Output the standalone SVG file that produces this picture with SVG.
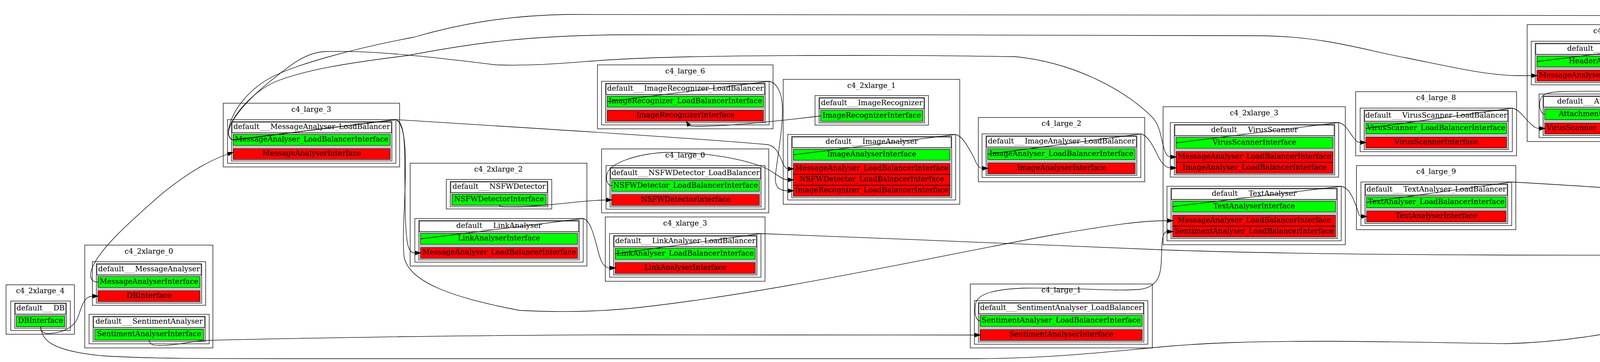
<svg xmlns="http://www.w3.org/2000/svg" width="6329" height="926" viewBox="0 0 6329 926">
<style>
text{font-family:"DejaVu Serif","Liberation Serif",serif;font-size:18.67px;text-anchor:middle;fill:#000}
.cl{fill:none;stroke:#000;stroke-width:1.3}
.no{fill:#fff;stroke:#000;stroke-width:1.3}
.tb{fill:none;stroke:#333;stroke-width:1.3}
.hd{fill:#fff;stroke:#000;stroke-width:1.3}
.sc{fill:#fff;stroke:#777;stroke-width:1}
.g{fill:#0f0;stroke:#000;stroke-width:1.3}
.r{fill:#f00;stroke:#000;stroke-width:1.3}
.e{fill:none;stroke:#000;stroke-width:1.3;marker-end:url(#a)}
.ep{fill:none;stroke:#000;stroke-width:1.3}
.ah{fill:#000;stroke:#000;stroke-width:1}
</style>
<defs>
<marker id="a" markerUnits="userSpaceOnUse" markerWidth="14" markerHeight="10" refX="0" refY="4.65" orient="auto" viewBox="0 0 13.3 9.3" overflow="visible"><path d="M0,0L13.3,4.65L0,9.3z" fill="#000" stroke="#000" stroke-width="1"/></marker>
</defs>
<rect x="0" y="0" width="6329" height="926" fill="#fff"/>
<g id="clusters">
<g id="c4_2xlarge_4"><rect class="cl" x="15.5" y="728.5" width="175" height="126.5"/><text x="103" y="750">c4_2xlarge_4</text></g>
<g id="c4_2xlarge_0"><rect class="cl" x="217" y="627" width="328" height="263"/><text x="381" y="648.5">c4_2xlarge_0</text></g>
<g id="c4_large_3"><rect class="cl" x="571.5" y="264" width="451.5" height="163"/><text x="797" y="285.5">c4_large_3</text></g>
<g id="c4_2xlarge_2"><rect class="cl" x="1050" y="417.5" width="452.5" height="263"/><text x="1276" y="439">c4_2xlarge_2</text></g>
<g id="c4_large_6"><rect class="cl" x="1529.5" y="166" width="449.5" height="163.5"/><text x="1754" y="187.5">c4_large_6</text></g>
<g id="c4_large_0"><rect class="cl" x="1540" y="381" width="428" height="163.5"/><text x="1754" y="402.5">c4_large_0</text></g>
<g id="c4_xlarge_3"><rect class="cl" x="1549.5" y="555" width="409" height="164.5"/><text x="1754" y="576.5">c4_xlarge_3</text></g>
<g id="c4_2xlarge_1"><rect class="cl" x="2005" y="203" width="452" height="319.5"/><text x="2231" y="224.5">c4_2xlarge_1</text></g>
<g id="c4_large_2"><rect class="cl" x="2504.5" y="300.5" width="426" height="164.5"/><text x="2717.5" y="322">c4_large_2</text></g>
<g id="c4_large_1"><rect class="cl" x="2484" y="726.5" width="466" height="163.5"/><text x="2717" y="748">c4_large_1</text></g>
<g id="c4_2xlarge_3"><rect class="cl" x="2977.5" y="273" width="466.5" height="353"/><text x="3210.5" y="294.5">c4_2xlarge_3</text></g>
<g id="c4_large_8"><rect class="cl" x="3470.5" y="234.5" width="412" height="164"/><text x="3676.5" y="256">c4_large_8</text></g>
<g id="c4_large_9"><rect class="cl" x="3472.5" y="423.5" width="408" height="164"/><text x="3676.5" y="445">c4_large_9</text></g>
<g id="c4_xlarge_2"><rect class="cl" x="3909.5" y="63" width="451.5" height="299"/><text x="4135" y="84.5">c4_xlarge_2</text></g>
<g id="c4_large_4"><rect class="cl" x="4387.5" y="155.5" width="491" height="164"/><text x="4633" y="177">c4_large_4</text></g>
<g id="c4_large_5"><rect class="cl" x="4414.5" y="329.5" width="437.5" height="164.5"/><text x="4633" y="351">c4_large_5</text></g>
<g id="c4_xlarge_0"><rect class="cl" x="4905" y="274" width="491" height="303"/><text x="5150.5" y="295.5">c4_xlarge_0</text></g>
<g id="c4_large_7"><rect class="cl" x="5423" y="235" width="432" height="165"/><text x="5639" y="256.5">c4_large_7</text></g>
<g id="c4_xlarge_1"><rect class="cl" x="5881" y="235" width="432.5" height="127"/><text x="6097" y="256.5">c4_xlarge_1</text></g>
</g>

<g id="n_DB">
<rect class="no" x="27.5" y="770" width="152.5" height="75.5"/><rect class="tb" x="37.5" y="775" width="132.5" height="65"/>
<rect class="hd" x="39" y="776.5" width="129.5" height="27"/><rect class="sc" x="39" y="805" width="129.5" height="34"/>
<rect class="g" x="42" y="808" width="123.5" height="28"/>
<text x="103.8" y="794">default___DB</text><text x="103.8" y="826">DBInterface</text>
</g>

<g id="n_MessageAnalyser">
<rect class="no" x="236.5" y="669.5" width="290" height="111.5"/><rect class="tb" x="246.5" y="674.5" width="270" height="101"/>
<rect class="hd" x="248" y="676" width="267" height="27"/><rect class="sc" x="248" y="704.5" width="267" height="34"/><rect class="sc" x="248" y="740.5" width="267" height="34"/>
<rect class="g" x="251" y="707.5" width="261" height="28"/><rect class="r" x="251" y="743.5" width="261" height="28"/>
<text x="381.5" y="693.5">default___MessageAnalyser</text><text x="381.5" y="725.5">MessageAnalyserInterface</text><text x="381.5" y="761.5">DBInterface</text>
</g>

<g id="n_SentimentAnalyser">
<rect class="no" x="228" y="804" width="307.5" height="75.5"/><rect class="tb" x="238" y="809" width="287.5" height="65"/>
<rect class="hd" x="239.5" y="810.5" width="284.5" height="27"/><rect class="sc" x="239.5" y="839" width="284.5" height="34"/>
<rect class="g" x="242.5" y="842" width="278.5" height="28"/>
<text x="381.75" y="828">default___SentimentAnalyser</text><text x="381.75" y="860">SentimentAnalyserInterface</text>
</g>

<g id="n_MessageAnalyser_LoadBalancer">
<rect class="no" x="582.5" y="306" width="431" height="111.5"/><rect class="tb" x="592.5" y="311" width="411" height="101"/>
<rect class="hd" x="594" y="312.5" width="408" height="27"/><rect class="sc" x="594" y="341" width="408" height="34"/><rect class="sc" x="594" y="377" width="408" height="34"/>
<rect class="g" x="597" y="344" width="402" height="28"/><rect class="r" x="597" y="380" width="402" height="28"/>
<text x="798" y="330">default___MessageAnalyser_LoadBalancer</text><text x="798" y="362">MessageAnalyser_LoadBalancerInterface</text><text x="798" y="398">MessageAnalyserInterface</text>
</g>

<g id="n_NSFWDetector">
<rect class="no" x="1142.5" y="459" width="270" height="75.5"/><rect class="tb" x="1152.5" y="464" width="250" height="65"/>
<rect class="hd" x="1154" y="465.5" width="247" height="27"/><rect class="sc" x="1154" y="494" width="247" height="34"/>
<rect class="g" x="1157" y="497" width="241" height="28"/>
<text x="1277.5" y="483">default___NSFWDetector</text><text x="1277.5" y="515">NSFWDetectorInterface</text>
</g>

<g id="n_LinkAnalyser">
<rect class="no" x="1062" y="559" width="431" height="111.5"/><rect class="tb" x="1072" y="564" width="411" height="101"/>
<rect class="hd" x="1073.5" y="565.5" width="408" height="27"/><rect class="sc" x="1073.5" y="594" width="408" height="34"/><rect class="sc" x="1073.5" y="630" width="408" height="34"/>
<rect class="g" x="1076.5" y="597" width="402" height="28"/><rect class="r" x="1076.5" y="633" width="402" height="28"/>
<text x="1277.5" y="583">default___LinkAnalyser</text><text x="1277.5" y="615">LinkAnalyserInterface</text><text x="1277.5" y="651">MessageAnalyser_LoadBalancerInterface</text>
</g>

<g id="n_ImageRecognizer_LoadBalancer">
<rect class="no" x="1540" y="208" width="429" height="111.5"/><rect class="tb" x="1550" y="213" width="409" height="101"/>
<rect class="hd" x="1551.5" y="214.5" width="406" height="27"/><rect class="sc" x="1551.5" y="243" width="406" height="34"/><rect class="sc" x="1551.5" y="279" width="406" height="34"/>
<rect class="g" x="1554.5" y="246" width="400" height="28"/><rect class="r" x="1554.5" y="282" width="400" height="28"/>
<text x="1754.5" y="232">default___ImageRecognizer_LoadBalancer</text><text x="1754.5" y="264">ImageRecognizer_LoadBalancerInterface</text><text x="1754.5" y="300">ImageRecognizerInterface</text>
</g>

<g id="n_NSFWDetector_LoadBalancer">
<rect class="no" x="1551.5" y="423.5" width="407" height="111.5"/><rect class="tb" x="1561.5" y="428.5" width="387" height="101"/>
<rect class="hd" x="1563" y="430" width="384" height="27"/><rect class="sc" x="1563" y="458.5" width="384" height="34"/><rect class="sc" x="1563" y="494.5" width="384" height="34"/>
<rect class="g" x="1566" y="461.5" width="378" height="28"/><rect class="r" x="1566" y="497.5" width="378" height="28"/>
<text x="1755" y="447.5">default___NSFWDetector_LoadBalancer</text><text x="1755" y="479.5">NSFWDetector_LoadBalancerInterface</text><text x="1755" y="515.5">NSFWDetectorInterface</text>
</g>

<g id="n_LinkAnalyser_LoadBalancer">
<rect class="no" x="1560.5" y="597.5" width="387.5" height="111.5"/><rect class="tb" x="1570.5" y="602.5" width="367.5" height="101"/>
<rect class="hd" x="1572" y="604" width="364.5" height="27"/><rect class="sc" x="1572" y="632.5" width="364.5" height="34"/><rect class="sc" x="1572" y="668.5" width="364.5" height="34"/>
<rect class="g" x="1575" y="635.5" width="358.5" height="28"/><rect class="r" x="1575" y="671.5" width="358.5" height="28"/>
<text x="1754.25" y="621.5">default___LinkAnalyser_LoadBalancer</text><text x="1754.25" y="653.5">LinkAnalyser_LoadBalancerInterface</text><text x="1754.25" y="689.5">LinkAnalyserInterface</text>
</g>

<g id="n_ImageRecognizer">
<rect class="no" x="2086.5" y="244.5" width="290.5" height="75.5"/><rect class="tb" x="2096.5" y="249.5" width="270.5" height="65"/>
<rect class="hd" x="2098" y="251" width="267.5" height="27"/><rect class="sc" x="2098" y="279.5" width="267.5" height="34"/>
<rect class="g" x="2101" y="282.5" width="261.5" height="28"/>
<text x="2231.75" y="268.5">default___ImageRecognizer</text><text x="2231.75" y="300.5">ImageRecognizerInterface</text>
</g>

<g id="n_ImageAnalyser">
<rect class="no" x="2016.5" y="344" width="430" height="167.5"/><rect class="tb" x="2026.5" y="349" width="410" height="157"/>
<rect class="hd" x="2028" y="350.5" width="407" height="27"/><rect class="sc" x="2028" y="379" width="407" height="34"/><rect class="sc" x="2028" y="415" width="407" height="90"/>
<rect class="g" x="2031" y="382" width="401" height="28"/>
<rect class="r" x="2031" y="418" width="401" height="28"/><rect class="r" x="2031" y="446" width="401" height="28"/><rect class="r" x="2031" y="474" width="401" height="28"/>
<text x="2231.5" y="368">default___ImageAnalyser</text><text x="2231.5" y="400">ImageAnalyserInterface</text>
<text x="2231.5" y="436">MessageAnalyser_LoadBalancerInterface</text><text x="2231.5" y="464">NSFWDetector_LoadBalancerInterface</text><text x="2231.5" y="492">ImageRecognizer_LoadBalancerInterface</text>
</g>

<g id="n_ImageAnalyser_LoadBalancer">
<rect class="no" x="2514" y="342.5" width="406.5" height="111.5"/><rect class="tb" x="2524" y="347.5" width="386.5" height="101"/>
<rect class="hd" x="2525.5" y="349" width="383.5" height="27"/><rect class="sc" x="2525.5" y="377.5" width="383.5" height="34"/><rect class="sc" x="2525.5" y="413.5" width="383.5" height="34"/>
<rect class="g" x="2528.5" y="380.5" width="377.5" height="28"/><rect class="r" x="2528.5" y="416.5" width="377.5" height="28"/>
<text x="2717.25" y="366.5">default___ImageAnalyser_LoadBalancer</text><text x="2717.25" y="398.5">ImageAnalyser_LoadBalancerInterface</text><text x="2717.25" y="434.5">ImageAnalyserInterface</text>
</g>

<g id="n_SentimentAnalyser_LoadBalancer">
<rect class="no" x="2494.5" y="769" width="444" height="111.5"/><rect class="tb" x="2504.5" y="774" width="424" height="101"/>
<rect class="hd" x="2506" y="775.5" width="421" height="27"/><rect class="sc" x="2506" y="804" width="421" height="34"/><rect class="sc" x="2506" y="840" width="421" height="34"/>
<rect class="g" x="2509" y="807" width="415" height="28"/><rect class="r" x="2509" y="843" width="415" height="28"/>
<text x="2716.5" y="793">default___SentimentAnalyser_LoadBalancer</text><text x="2716.5" y="825">SentimentAnalyser_LoadBalancerInterface</text><text x="2716.5" y="861">SentimentAnalyserInterface</text>
</g>

<g id="n_VirusScanner">
<rect class="no" x="2996" y="313.5" width="431" height="139.5"/><rect class="tb" x="3006" y="318.5" width="411" height="129"/>
<rect class="hd" x="3007.5" y="320" width="408" height="27"/><rect class="sc" x="3007.5" y="348.5" width="408" height="34"/><rect class="sc" x="3007.5" y="384.5" width="408" height="62"/>
<rect class="g" x="3010.5" y="351.5" width="402" height="28"/><rect class="r" x="3010.5" y="387.5" width="402" height="28"/><rect class="r" x="3010.5" y="415.5" width="402" height="28"/>
<text x="3211.5" y="337.5">default___VirusScanner</text><text x="3211.5" y="369.5">VirusScannerInterface</text>
<text x="3211.5" y="405.5">MessageAnalyser_LoadBalancerInterface</text><text x="3211.5" y="433.5">ImageAnalyser_LoadBalancerInterface</text>
</g>

<g id="n_TextAnalyser">
<rect class="no" x="2987.5" y="476.5" width="446" height="139.5"/><rect class="tb" x="2997.5" y="481.5" width="426" height="129"/>
<rect class="hd" x="2999" y="483" width="423" height="27"/><rect class="sc" x="2999" y="511.5" width="423" height="34"/><rect class="sc" x="2999" y="547.5" width="423" height="62"/>
<rect class="g" x="3002" y="514.5" width="417" height="28"/><rect class="r" x="3002" y="550.5" width="417" height="28"/><rect class="r" x="3002" y="578.5" width="417" height="28"/>
<text x="3210.5" y="500.5">default___TextAnalyser</text><text x="3210.5" y="532.5">TextAnalyserInterface</text>
<text x="3210.5" y="568.5">MessageAnalyser_LoadBalancerInterface</text><text x="3210.5" y="596.5">SentimentAnalyser_LoadBalancerInterface</text>
</g>

<g id="n_VirusScanner_LoadBalancer">
<rect class="no" x="3482" y="276.5" width="389.5" height="111.5"/><rect class="tb" x="3492" y="281.5" width="369.5" height="101"/>
<rect class="hd" x="3493.5" y="283" width="366.5" height="27"/><rect class="sc" x="3493.5" y="311.5" width="366.5" height="34"/><rect class="sc" x="3493.5" y="347.5" width="366.5" height="34"/>
<rect class="g" x="3496.5" y="314.5" width="360.5" height="28"/><rect class="r" x="3496.5" y="350.5" width="360.5" height="28"/>
<text x="3676.75" y="300.5">default___VirusScanner_LoadBalancer</text><text x="3676.75" y="332.5">VirusScanner_LoadBalancerInterface</text><text x="3676.75" y="368.5">VirusScannerInterface</text>
</g>

<g id="n_TextAnalyser_LoadBalancer">
<rect class="no" x="3484" y="465.5" width="386" height="111.5"/><rect class="tb" x="3494" y="470.5" width="366" height="101"/>
<rect class="hd" x="3495.5" y="472" width="363" height="27"/><rect class="sc" x="3495.5" y="500.5" width="363" height="34"/><rect class="sc" x="3495.5" y="536.5" width="363" height="34"/>
<rect class="g" x="3498.5" y="503.5" width="357" height="28"/><rect class="r" x="3498.5" y="539.5" width="357" height="28"/>
<text x="3677" y="489.5">default___TextAnalyser_LoadBalancer</text><text x="3677" y="521.5">TextAnalyser_LoadBalancerInterface</text><text x="3677" y="557.5">TextAnalyserInterface</text>
</g>

<g id="n_HeaderAnalyser">
<rect class="no" x="3920" y="105.5" width="431.5" height="111.5"/><rect class="tb" x="3930" y="110.5" width="411.5" height="101"/>
<rect class="hd" x="3931.5" y="112" width="408.5" height="27"/><rect class="sc" x="3931.5" y="140.5" width="408.5" height="34"/><rect class="sc" x="3931.5" y="176.5" width="408.5" height="34"/>
<rect class="g" x="3934.5" y="143.5" width="402.5" height="28"/><rect class="r" x="3934.5" y="179.5" width="402.5" height="28"/>
<text x="4135.75" y="129.5">default___HeaderAnalyser</text><text x="4135.75" y="161.5">HeaderAnalyserInterface</text><text x="4135.75" y="197.5">MessageAnalyser_LoadBalancerInterface</text>
</g>

<g id="n_AttachmentsManager">
<rect class="no" x="3940" y="240.5" width="392" height="111.5"/><rect class="tb" x="3950" y="245.5" width="372" height="101"/>
<rect class="hd" x="3951.5" y="247" width="369" height="27"/><rect class="sc" x="3951.5" y="275.5" width="369" height="34"/><rect class="sc" x="3951.5" y="311.5" width="369" height="34"/>
<rect class="g" x="3954.5" y="278.5" width="363" height="28"/><rect class="r" x="3954.5" y="314.5" width="363" height="28"/>
<text x="4136" y="264.5">default___AttachmentsManager</text><text x="4136" y="296.5">AttachmentsManagerInterface</text><text x="4136" y="332.5">VirusScanner_LoadBalancerInterface</text>
</g>

<g id="n_AttachmentsManager_LoadBalancer">
<rect class="no" x="4397.5" y="197" width="470.5" height="111.5"/><rect class="tb" x="4407.5" y="202" width="450.5" height="101"/>
<rect class="hd" x="4409" y="203.5" width="447.5" height="27"/><rect class="sc" x="4409" y="232" width="447.5" height="34"/><rect class="sc" x="4409" y="268" width="447.5" height="34"/>
<rect class="g" x="4412" y="235" width="441.5" height="28"/><rect class="r" x="4412" y="271" width="441.5" height="28"/>
<text x="4632.75" y="221">default___AttachmentsManager_LoadBalancer</text><text x="4632.75" y="253">AttachmentsManager_LoadBalancerInterface</text><text x="4632.75" y="289">AttachmentsManagerInterface</text>
</g>

<g id="n_HeaderAnalyser_LoadBalancer">
<rect class="no" x="4424.5" y="372" width="416.5" height="111.5"/><rect class="tb" x="4434.5" y="377" width="396.5" height="101"/>
<rect class="hd" x="4436" y="378.5" width="393.5" height="27"/><rect class="sc" x="4436" y="407" width="393.5" height="34"/><rect class="sc" x="4436" y="443" width="393.5" height="34"/>
<rect class="g" x="4439" y="410" width="387.5" height="28"/><rect class="r" x="4439" y="446" width="387.5" height="28"/>
<text x="4632.75" y="396">default___HeaderAnalyser_LoadBalancer</text><text x="4632.75" y="428">HeaderAnalyser_LoadBalancerInterface</text><text x="4632.75" y="464">HeaderAnalyserInterface</text>
</g>

<g id="n_MessageParser">
<rect class="no" x="4915.5" y="315" width="470" height="251.5"/><rect class="tb" x="4925.5" y="320" width="450" height="241"/>
<rect class="hd" x="4927" y="321.5" width="447" height="27"/><rect class="sc" x="4927" y="350" width="447" height="34"/><rect class="sc" x="4927" y="386" width="447" height="174"/>
<rect class="g" x="4930" y="353" width="441" height="28"/>
<rect class="r" x="4930" y="389" width="441" height="28"/><rect class="r" x="4930" y="417" width="441" height="28"/><rect class="r" x="4930" y="445" width="441" height="28"/>
<rect class="r" x="4930" y="473" width="441" height="28"/><rect class="r" x="4930" y="501" width="441" height="28"/><rect class="r" x="4930" y="529" width="441" height="28"/>
<text x="5150.5" y="339">default___MessageParser</text><text x="5150.5" y="371">MessageParserInterface</text>
<text x="5150.5" y="407">DBInterface</text><text x="5150.5" y="435">HeaderAnalyser_LoadBalancerInterface</text><text x="5150.5" y="463">MessageAnalyser_LoadBalancerInterface</text>
<text x="5150.5" y="491">AttachmentsManager_LoadBalancerInterface</text><text x="5150.5" y="519">TextAnalyser_LoadBalancerInterface</text><text x="5150.5" y="547">LinkAnalyser_LoadBalancerInterface</text>
</g>

<g id="n_MessageParser_LoadBalancer">
<rect class="no" x="5433" y="278" width="411" height="111.5"/><rect class="tb" x="5443" y="283" width="391" height="101"/>
<rect class="hd" x="5444.5" y="284.5" width="388" height="27"/><rect class="sc" x="5444.5" y="313" width="388" height="34"/><rect class="sc" x="5444.5" y="349" width="388" height="34"/>
<rect class="g" x="5447.5" y="316" width="382" height="28"/><rect class="r" x="5447.5" y="352" width="382" height="28"/>
<text x="5638.5" y="302">default___MessageParser_LoadBalancer</text><text x="5638.5" y="334">MessageParser_LoadBalancerInterface</text><text x="5638.5" y="370">MessageParserInterface</text>
</g>

<g id="n_MessageReceiver">
<rect class="no" x="5892" y="277" width="411" height="75.5"/><rect class="tb" x="5902" y="282" width="391" height="65"/>
<rect class="hd" x="5903.5" y="283.5" width="388" height="27"/><rect class="sc" x="5903.5" y="312" width="388" height="34"/>
<rect class="r" x="5906.5" y="315" width="382" height="28"/>
<text x="6097.5" y="301">default___MessageReceiver</text><text x="6097.5" y="333">MessageParser_LoadBalancerInterface</text>
</g>

<g id="connectors">
<path class="e" d="M103.8,836 C105,850 112,854 128,853 C160,851 188,838 198,815 C206,795 212,768 225,761 C229,759 233,757.5 237.7,757.5"/>
<path class="e" d="M103.8,836 C108,870 130,897 260,910 C380,918 550,917.5 800,917.5 L2500,917.5 C2700,917 2850,898 3000,885 C3100,877 3200,873 3400,873 C3600,874 3750,878 3860,879 C4000,875 4120,855 4240,827 C4400,790 4600,705 4800,580 C4870,535 4885,500 4895,450 C4900,420 4905,403 4916.7,403"/>
<path class="e" d="M251,721.5 C236,722 228,712 234,691 C250,640 330,570 408,501 C470,450 530,412 583.7,394"/>
<path class="e" d="M381.75,870 C383,880 390,884 408,884 C450,884 480,875 520,871 C700,866 1200,857 1600,856.5 L2495.7,857"/>
<path class="e" d="M597,358 L1013.5,306 C1030,310 1035,340 1036,400 C1037,500 1036,600 1045,630 C1050,645 1055,647 1063.2,647"/>
<path class="e" d="M597,358 L1013.5,306 C1400,330 1800,355 1965,370 C2000,375 2000,432 2017.7,432"/>
<path class="e" d="M597,358 L1013.5,306 C1032,315 1038,360 1038,420 C1038,520 1028,610 1035,660 C1050,720 1150,760 1330,794 C1450,800 1550,797 1650,785 C2000,745 2400,655 2700,600 C2850,575 2920,564.5 2988.7,564.5"/>
<path class="e" d="M597,358 C588,356 582,345 586,330 C600,290 650,240 704,198 C740,170 780,135 830,132 C950,128 1100,145 1270,166 C1400,170 1500,155 1600,151 C1800,140 2300,140 2600,145 C2750,160 2880,230 2950,300 C2980,330 2972,401.5 2997.2,401.5"/>
<path class="e" d="M597,358 C588,356 582,345 586,332 C598,290 650,232 710,207 C780,180 880,162 1044,142 C1200,112 1350,90 1600,89 C2000,89 3000,89 3237.8,91.5 C3400,95 3500,130 3600,148 C3700,168 3800,192 3880,193.5 L3921.2,193.5"/>
<path class="e" d="M597,358 C588,356 582,345 586,328 C595,280 640,225 700,195 C760,165 900,125 1060,95 C1180,60 1300,40 1450,37 C1600,37 3800,39.6 4142,39.6 C4300,39 4450,5 4600,6 C4750,8 4850,90 4885,170 C4905,230 4897,400 4903,435 C4907,452 4910,459 4916.7,459"/>
<path class="e" d="M1277.5,525 C1279,529 1290,530 1330,529 C1420,525 1500,512 1552.7,511.5"/>
<path class="e" d="M1076.5,611 L1493,559 C1510,562 1520,600 1528,630 C1535,660 1542,685.5 1561.7,685.5"/>
<path class="e" d="M1554.5,260 L1969,208 C1990,212 2003,240 2003,280 C2003,340 1990,400 1985,450 C1983,480 1995,488 2017.7,488"/>
<path class="e" d="M1566,475.5 C1555,474 1550,460 1554,445 C1560,420 1620,395 1700,390 C1800,388 1900,405 1960,430 C1990,445 2000,460 2017.7,460"/>
<path class="e" d="M1575,649.5 L1948,597.5 C2300,610 2700,630 3000,640 C3300,650 3700,653 4100,652.6 C4350,645 4500,600 4650,565 C4750,548 4850,543 4916.7,543"/>
<path class="ep" d="M2101,296.5 C1950,315 1850,322 1800,323 C1785,323.5 1772,324 1764,321.4"/>
<polygon class="ah" points="1757,310 1768,319 1760,323.8"/>
<path class="e" d="M2031,396 L2446.5,344 C2465,348 2480,380 2492,400 C2500,420 2505,430.5 2515.2,430.5"/>
<path class="e" d="M2528.5,394.5 L2920.5,342.5 C2940,346 2955,380 2965,400 C2975,420 2985,429.5 2997.2,429.5"/>
<path class="e" d="M2509,821 C2498,820 2493,800 2498,775 C2505,750 2550,740 2620,737 C2750,735 2850,746 2920,740 C2975,732 2972,690 2974,640 C2975,600 2980,592.5 2988.7,592.5"/>
<path class="e" d="M3010.5,365.5 L3427,313.5 C3445,317 3455,340 3465,352 C3472,362 3476,364.5 3483.2,364.5"/>
<path class="e" d="M3002,528.5 L3433.5,476.5 C3455,480 3465,510 3473,530 C3478,545 3478,553.5 3485.2,553.5"/>
<path class="e" d="M3496.5,328.5 L3871.5,276.5 C3890,280 3905,305 3920,318 C3928,326 3933,328.5 3941.2,328.5"/>
<path class="e" d="M3498.5,517.5 L3870,465.5 C4100,478 4400,502 4700,512 C4800,515 4880,515 4916.7,515"/>
<path class="e" d="M3934.5,157.5 L4351.5,105.5 C4370,110 4376,150 4380,200 C4385,280 4388,380 4395,420 C4400,450 4410,460 4425.7,460"/>
<path class="e" d="M3954.5,292.5 C3944,290 3940,275 3942,260 C3945,240 3960,236 4000,234 C4100,232 4250,235 4330,240 C4360,245 4378,280 4398.7,285"/>
<path class="e" d="M4412,249 L4868,197 C4885,202 4892,230 4894,260 C4897,330 4897,420 4901,450 C4905,478 4910,487 4916.7,487"/>
<path class="e" d="M4439,424 L4841,372 C4860,376 4875,395 4892,412 C4900,422 4908,431 4916.7,431"/>
<path class="e" d="M4930,367 L5385.5,315 C5402,318 5412,340 5422,352 C5428,362 5430,366 5434.2,366"/>
<path class="e" d="M5447.5,330 L5844,278 C5860,281 5870,300 5880,313 C5887,323 5888,329 5893.2,329"/>
</g>
</svg>
